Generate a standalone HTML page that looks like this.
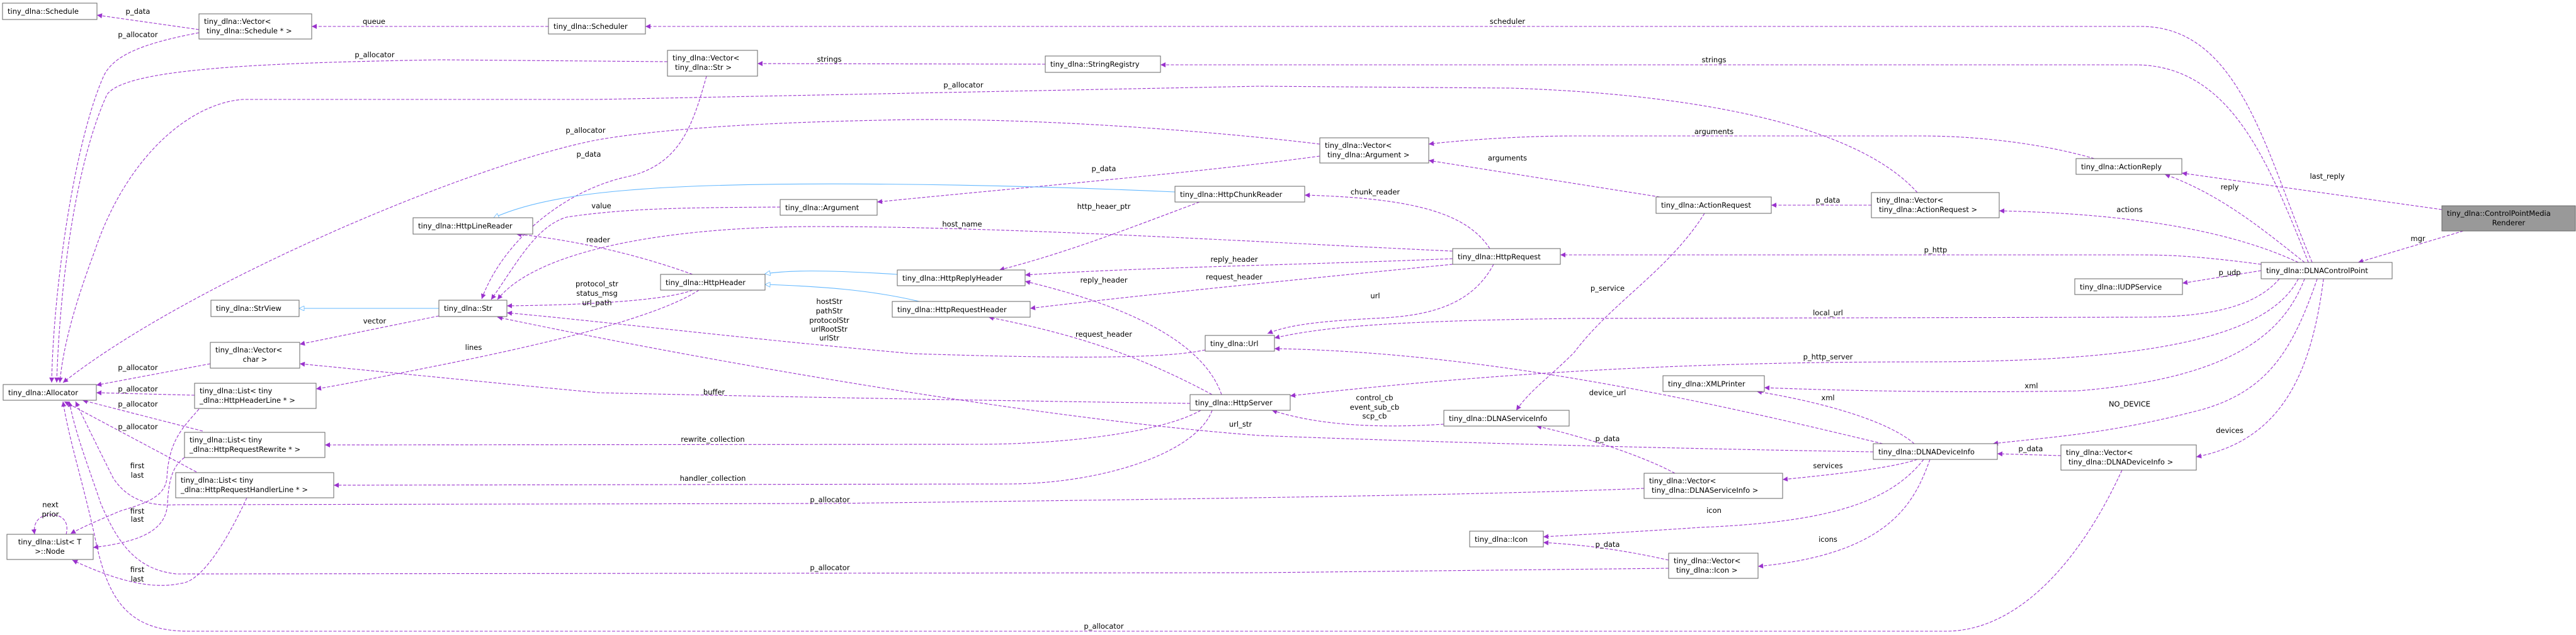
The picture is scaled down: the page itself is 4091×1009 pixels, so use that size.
<!DOCTYPE html>
<html><head><meta charset="utf-8"><style>
html,body{margin:0;padding:0;background:#fff;}
svg{display:block;}
text{font-family:"DejaVu Sans","Liberation Sans",sans-serif;font-size:11.5px;fill:#000;}
.e{fill:none;stroke:#9a32cd;stroke-width:1.1;stroke-dasharray:5,2.5;}
.i{fill:none;stroke:#63b8ff;stroke-width:1.1;}
.n{fill:#fff;stroke:#666;stroke-width:1;}
.l{text-anchor:middle;}
</style></head><body>
<svg width="4091" height="1009" viewBox="0 0 4091 1009" xmlns="http://www.w3.org/2000/svg">
<defs>
<marker id="a" viewBox="0 0 10 10" refX="10" refY="5" markerWidth="10" markerHeight="8" markerUnits="userSpaceOnUse" orient="auto"><path d="M0,0L10,5L0,10z" fill="#9a32cd"/></marker>
<marker id="b" viewBox="0 0 10 10" refX="10" refY="5" markerWidth="10" markerHeight="8" markerUnits="userSpaceOnUse" orient="auto"><path d="M0,0L10,5L0,10z" fill="#fff" stroke="#63b8ff"/></marker>
</defs>

<!-- edges -->
<g marker-end="url(#a)">
<path class="e" d="M316,47 L154,24"/>
<path class="e" d="M316,52 C220,70 180,90 165,120 C120,220 85,450 82,608"/>
<path class="e" d="M871,42 L495,42"/>
<path class="e" d="M3672,417 C3600,250 3560,42 3400,42 L1025,42"/>
<path class="e" d="M3666,417 C3600,250 3540,103 3390,103 L1843,103"/>
<path class="e" d="M1660,102 L1203,101"/>
<path class="e" d="M1060,98 L700,95 C400,100 200,110 170,150 C120,260 95,450 90,608"/>
<path class="e" d="M1122,121 C1100,200 1080,260 1000,280 C900,300 800,380 765,475"/>
<path class="e" d="M2096,229 C1900,205 1600,185 1400,191 C1200,195 1050,205 950,222 C750,260 300,450 100,608"/>
<path class="e" d="M3045,306 C2950,200 2700,150 2400,140 L2000,137 L950,158 L385,158 C300,165 200,250 150,400 C120,480 100,550 95,608"/>
<path class="e" d="M2096,248 C1900,275 1600,300 1393,321"/>
<path class="e" d="M2636,313 L2269,255"/>
<path class="e" d="M3326,252 C3250,230 3150,216 3050,216 L2500,216 C2400,216 2300,225 2269,229"/>
<path class="e" d="M3660,417 C3600,370 3530,310 3438,277"/>
<path class="e" d="M3878,333 L3465,275"/>
<path class="e" d="M3912,367 L3745,417"/>
<path class="e" d="M3650,417 C3550,370 3400,340 3175,335"/>
<path class="e" d="M3591,420 C3500,408 3450,405 3400,405 L2478,405"/>
<path class="e" d="M3591,430 L3466,450"/>
<path class="e" d="M2972,326 L2813,326"/>
<path class="e" d="M2366,395 C2330,340 2250,315 2072,310"/>
<path class="e" d="M2307,411 C2100,420 1800,425 1628,437"/>
<path class="e" d="M2307,420 C2100,440 1800,470 1636,490"/>
<path class="e" d="M2307,399 C2000,385 1600,360 1300,360 C1050,360 850,400 790,476"/>
<path class="e" d="M2372,420 C2340,480 2280,500 2200,505 C2100,510 2050,515 2013,530"/>
<path class="e" d="M1905,321 C1800,360 1700,400 1587,429"/>
<path class="e" d="M1239,329 C1100,330 1000,330 900,345 C850,360 820,420 780,476"/>
<path class="e" d="M1100,436 C1000,400 900,380 820,372"/>
<path class="e" d="M1100,461 C1050,480 900,485 805,486"/>
<path class="e" d="M1110,461 C1050,500 900,540 700,580 C600,600 540,612 502,618"/>
<path class="e" d="M697,502 L476,547"/>
<path class="e" d="M1890,641 C1600,637 1200,630 950,624 C800,610 600,590 476,578"/>
<path class="e" d="M1940,627 C1920,570 1850,500 1628,447"/>
<path class="e" d="M1925,627 C1800,560 1700,530 1570,504"/>
<path class="e" d="M1914,556 C1850,570 1700,570 1450,562 C1200,540 950,510 805,497"/>
<path class="e" d="M2975,718 C2600,712 2200,700 2000,692 C1700,670 1200,590 790,504"/>
<path class="e" d="M1907,652 C1850,685 1700,706 1550,706 L516,707"/>
<path class="e" d="M1925,652 C1900,720 1750,769 1600,769 L530,771"/>
<path class="e" d="M2293,674 C2200,680 2100,678 2020,652"/>
<path class="e" d="M3650,443 C3600,540 3400,575 3050,575 C2700,575 2400,590 2049,629"/>
<path class="e" d="M3620,443 C3580,490 3500,504 3400,504 L2500,506 C2200,510 2100,520 2024,537"/>
<path class="e" d="M2990,705 C2800,660 2400,560 2024,554"/>
<path class="e" d="M2707,339 C2650,430 2560,480 2500,560 C2460,600 2430,620 2408,652"/>
<path class="e" d="M3040,705 C3000,670 2900,640 2790,622"/>
<path class="e" d="M3660,443 C3630,520 3560,600 3300,621 C3100,625 2900,620 2802,616"/>
<path class="e" d="M3680,443 C3640,560 3600,620 3500,650 C3350,690 3250,695 3165,705"/>
<path class="e" d="M3690,443 C3670,600 3620,700 3488,726"/>
<path class="e" d="M3273,724 L3172,721"/>
<path class="e" d="M3045,730 C3000,745 2900,755 2831,762"/>
<path class="e" d="M2660,752 C2600,720 2500,690 2440,677"/>
<path class="e" d="M3055,730 C3000,800 2900,830 2700,838 C2600,845 2500,850 2451,853"/>
<path class="e" d="M3065,730 C3040,800 3000,880 2792,900"/>
<path class="e" d="M2650,890 C2560,870 2500,865 2451,862"/>
<path class="e" d="M2611,776 C2400,785 2000,792 1318,800 L280,802 C230,805 200,790 180,760 C160,720 140,680 120,638"/>
<path class="e" d="M2650,903 L2000,910 L280,912 C220,905 190,870 160,800 C140,740 120,690 110,638"/>
<path class="e" d="M3370,747 C3300,900 3200,1003 3090,1003 L300,1003 C200,1003 170,950 150,850 C130,760 110,700 100,638"/>
<path class="e" d="M309,628 L153,624"/>
<path class="e" d="M334,578 L153,612"/>
<path class="e" d="M322,685 L131,636"/>
<path class="e" d="M312,750 L102,638"/>
<path class="e" d="M316,650 C290,680 268,700 265,760 C262,790 230,800 191,812 C160,825 130,838 112,848"/>
<path class="e" d="M293,727 C275,740 268,760 266,800 C264,840 230,860 148,870"/>
<path class="e" d="M392,791 C360,860 320,925 287,927 C250,935 200,930 115,890"/>
<path class="e" d="M105,849 C110,830 100,818 82,818 C62,818 52,830 55,849"/>
</g>
<g marker-end="url(#b)">
<path class="i" d="M1866,305 C1600,293 1200,285 1000,302 C900,310 830,325 784,346"/>
<path class="i" d="M1425,436 C1300,428 1250,430 1215,435"/>
<path class="i" d="M1460,479 C1380,460 1300,455 1215,452"/>
<path class="i" d="M697,490 L475,490"/>
</g>

<!-- edge labels -->
<g class="l">
<text x="219" y="22">p_data</text>
<text x="219" y="59">p_allocator</text>
<text x="594" y="38">queue</text>
<text x="595" y="91">p_allocator</text>
<text x="2394" y="38">scheduler</text>
<text x="2722" y="99">strings</text>
<text x="1317" y="98">strings</text>
<text x="1530" y="139">p_allocator</text>
<text x="930" y="211">p_allocator</text>
<text x="935" y="249">p_data</text>
<text x="1753" y="272">p_data</text>
<text x="2722" y="213">arguments</text>
<text x="2394" y="255">arguments</text>
<text x="3696" y="284">last_reply</text>
<text x="3541" y="301">reply</text>
<text x="3382" y="337">actions</text>
<text x="3840" y="383">mgr</text>
<text x="3074" y="401">p_http</text>
<text x="3541" y="437">p_udp</text>
<text x="2903" y="322">p_data</text>
<text x="2184" y="309">chunk_reader</text>
<text x="1753" y="332">http_heaer_ptr</text>
<text x="955" y="331">value</text>
<text x="1528" y="360">host_name</text>
<text x="950" y="385">reader</text>
<text x="1960" y="416">reply_header</text>
<text x="1753" y="449">reply_header</text>
<text x="1960" y="444">request_header</text>
<text x="948" y="455">protocol_str</text>
<text x="948" y="470">status_msg</text>
<text x="948" y="485">url_path</text>
<text x="2184" y="474">url</text>
<text x="2553" y="462">p_service</text>
<text x="2903" y="501">local_url</text>
<text x="1317" y="483">hostStr</text>
<text x="1317" y="498">pathStr</text>
<text x="1317" y="513">protocolStr</text>
<text x="1317" y="527">urlRootStr</text>
<text x="1317" y="541">urlStr</text>
<text x="595" y="514">vector</text>
<text x="1753" y="535">request_header</text>
<text x="752" y="556">lines</text>
<text x="2903" y="571">p_http_server</text>
<text x="219" y="588">p_allocator</text>
<text x="219" y="622">p_allocator</text>
<text x="219" y="646">p_allocator</text>
<text x="219" y="682">p_allocator</text>
<text x="1134" y="627">buffer</text>
<text x="2553" y="628">device_url</text>
<text x="2903" y="636">xml</text>
<text x="3226" y="617">xml</text>
<text x="2183" y="636">control_cb</text>
<text x="2183" y="651">event_sub_cb</text>
<text x="2183" y="665">scp_cb</text>
<text x="3382" y="646">NO_DEVICE</text>
<text x="1970" y="678">url_str</text>
<text x="3541" y="688">devices</text>
<text x="1132" y="702">rewrite_collection</text>
<text x="2553" y="701">p_data</text>
<text x="3225" y="717">p_data</text>
<text x="2903" y="744">services</text>
<text x="218" y="744">first</text>
<text x="218" y="759">last</text>
<text x="1132" y="764">handler_collection</text>
<text x="1318" y="798">p_allocator</text>
<text x="80" y="806">next</text>
<text x="80" y="821">prior</text>
<text x="218" y="816">first</text>
<text x="218" y="829">last</text>
<text x="2722" y="815">icon</text>
<text x="2903" y="861">icons</text>
<text x="2553" y="869">p_data</text>
<text x="1318" y="906">p_allocator</text>
<text x="218" y="909">first</text>
<text x="218" y="924">last</text>
<text x="1753" y="999">p_allocator</text>
</g>

<!-- nodes -->
<rect class="n" x="4" y="5" width="150" height="26"/><text x="12" y="22">tiny_dlna::Schedule</text>
<rect class="n" x="316" y="22" width="179" height="40"/><text x="324" y="38">tiny_dlna::Vector&lt;</text><text x="328" y="53">tiny_dlna::Schedule * &gt;</text>
<rect class="n" x="871" y="29" width="154" height="25"/><text x="879" y="46">tiny_dlna::Scheduler</text>
<rect class="n" x="1060" y="80" width="143" height="41"/><text x="1068" y="96">tiny_dlna::Vector&lt;</text><text x="1072" y="111">tiny_dlna::Str &gt;</text>
<rect class="n" x="1660" y="89" width="183" height="26"/><text x="1668" y="106">tiny_dlna::StringRegistry</text>
<rect class="n" x="5" y="611" width="148" height="25"/><text x="13" y="628">tiny_dlna::Allocator</text>
<rect class="n" x="335" y="477" width="140" height="26"/><text x="343" y="494">tiny_dlna::StrView</text>
<rect class="n" x="697" y="477" width="108" height="26"/><text x="705" y="494">tiny_dlna::Str</text>
<rect class="n" x="656" y="346" width="190" height="26"/><text x="664" y="363">tiny_dlna::HttpLineReader</text>
<rect class="n" x="334" y="544" width="142" height="41"/><text x="342" y="560">tiny_dlna::Vector&lt;</text><text x="405" y="575" class="l">char &gt;</text>
<rect class="n" x="309" y="609" width="193" height="40"/><text x="317" y="625">tiny_dlna::List&lt; tiny</text><text x="317" y="640">_dlna::HttpHeaderLine * &gt;</text>
<rect class="n" x="293" y="687" width="223" height="40"/><text x="301" y="703">tiny_dlna::List&lt; tiny</text><text x="301" y="718">_dlna::HttpRequestRewrite * &gt;</text>
<rect class="n" x="279" y="751" width="251" height="40"/><text x="287" y="767">tiny_dlna::List&lt; tiny</text><text x="287" y="782">_dlna::HttpRequestHandlerLine * &gt;</text>
<rect class="n" x="11" y="849" width="137" height="40"/><text x="79" y="865" class="l">tiny_dlna::List&lt; T</text><text x="79" y="880" class="l">&gt;::Node</text>
<rect class="n" x="1239" y="317" width="154" height="25"/><text x="1247" y="334">tiny_dlna::Argument</text>
<rect class="n" x="1866" y="296" width="206" height="25"/><text x="1874" y="313">tiny_dlna::HttpChunkReader</text>
<rect class="n" x="1049" y="436" width="166" height="25"/><text x="1057" y="453">tiny_dlna::HttpHeader</text>
<rect class="n" x="1425" y="429" width="203" height="25"/><text x="1433" y="446">tiny_dlna::HttpReplyHeader</text>
<rect class="n" x="1417" y="479" width="219" height="25"/><text x="1425" y="496">tiny_dlna::HttpRequestHeader</text>
<rect class="n" x="1914" y="533" width="110" height="25"/><text x="1922" y="550">tiny_dlna::Url</text>
<rect class="n" x="1890" y="627" width="159" height="25"/><text x="1898" y="644">tiny_dlna::HttpServer</text>
<rect class="n" x="2096" y="219" width="173" height="40"/><text x="2104" y="235">tiny_dlna::Vector&lt;</text><text x="2108" y="250">tiny_dlna::Argument &gt;</text>
<rect class="n" x="2630" y="313" width="183" height="26"/><text x="2638" y="330">tiny_dlna::ActionRequest</text>
<rect class="n" x="2972" y="306" width="203" height="40"/><text x="2980" y="322">tiny_dlna::Vector&lt;</text><text x="2984" y="337">tiny_dlna::ActionRequest &gt;</text>
<rect class="n" x="2307" y="395" width="171" height="25"/><text x="2315" y="412">tiny_dlna::HttpRequest</text>
<rect class="n" x="2641" y="597" width="161" height="25"/><text x="2649" y="614">tiny_dlna::XMLPrinter</text>
<rect class="n" x="2293" y="652" width="199" height="25"/><text x="2301" y="669">tiny_dlna::DLNAServiceInfo</text>
<rect class="n" x="2975" y="705" width="197" height="25"/><text x="2983" y="722">tiny_dlna::DLNADeviceInfo</text>
<rect class="n" x="2611" y="752" width="220" height="40"/><text x="2619" y="768">tiny_dlna::Vector&lt;</text><text x="2623" y="783">tiny_dlna::DLNAServiceInfo &gt;</text>
<rect class="n" x="2334" y="844" width="117" height="25"/><text x="2342" y="861">tiny_dlna::Icon</text>
<rect class="n" x="2650" y="879" width="142" height="40"/><text x="2658" y="895">tiny_dlna::Vector&lt;</text><text x="2662" y="910">tiny_dlna::Icon &gt;</text>
<rect class="n" x="3297" y="252" width="168" height="25"/><text x="3305" y="269">tiny_dlna::ActionReply</text>
<rect class="n" x="3295" y="443" width="171" height="25"/><text x="3303" y="460">tiny_dlna::IUDPService</text>
<rect class="n" x="3591" y="417" width="208" height="26"/><text x="3599" y="434">tiny_dlna::DLNAControlPoint</text>
<rect class="n" x="3273" y="707" width="215" height="40"/><text x="3281" y="723">tiny_dlna::Vector&lt;</text><text x="3285" y="738">tiny_dlna::DLNADeviceInfo &gt;</text>
<rect x="3878" y="327" width="212" height="40" fill="#999" stroke="#666"/><text x="3886" y="343">tiny_dlna::ControlPointMedia</text><text x="3984" y="358" class="l">Renderer</text>
</svg>
</body></html>
